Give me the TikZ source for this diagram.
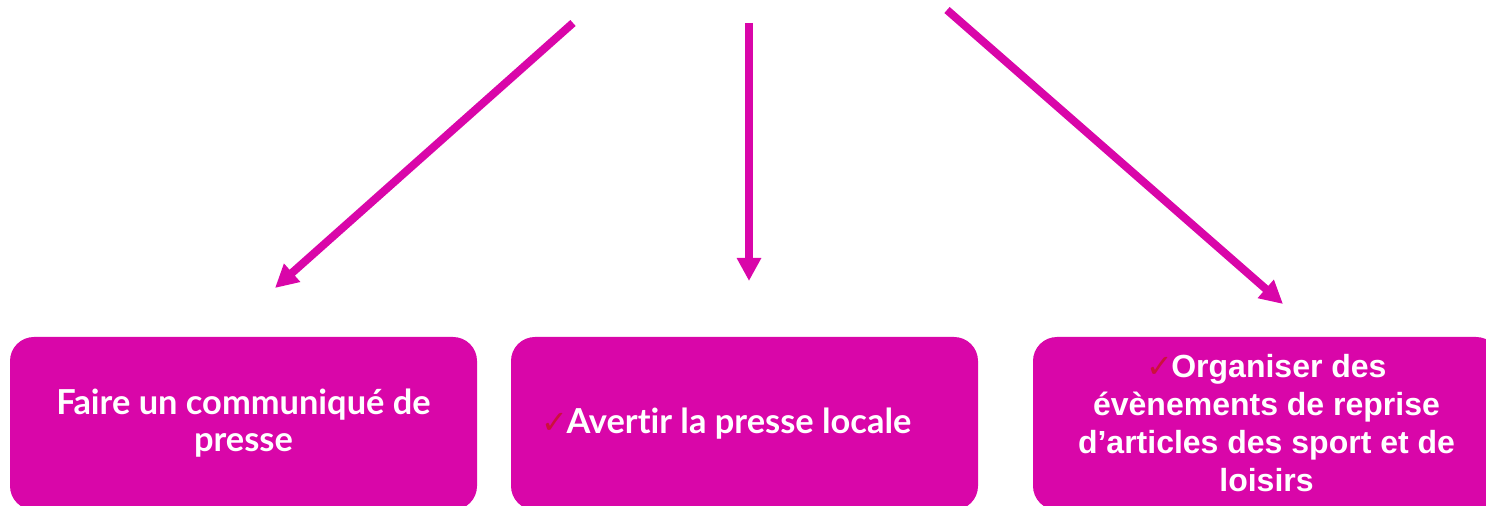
\documentclass[tikz,border=0pt]{standalone}
\usepackage{fontspec}
\setmainfont{Lato}[Ligatures=NoCommon]
\newfontfamily\arialfont{Liberation Sans}
\newfontfamily\symbfont{DejaVu Sans}
\usetikzlibrary{arrows.meta}
\definecolor{rose}{RGB}{217,6,169}
\definecolor{coche}{RGB}{204,16,60}
\newcommand{\coche}{{\symbfont\color{coche}\fontsize{16}{16}\selectfont ✓}}
\tikzset{
  boite/.style={fill=rose, rounded corners=12pt, inner sep=0pt,
    minimum width=233.5pt, minimum height=86.5pt, text=white, align=center,
    font=\fontsize{17.2}{18.5}\selectfont\bfseries},
  fleche/.style={draw=rose, line width=4pt,
    -{Triangle[length=11.5pt,width=11.5pt]}}
}
\begin{document}
\begin{tikzpicture}[x=0.5pt,y=-0.5pt]
      \useasboundingbox (0,0) rectangle (1486,506);
      \clip (0,0) rectangle (1486,506);
      \draw
        (243.5,423.5) node[boite] (communique){Faire un communiqué de\\presse}
        (744.5,423.5) node[boite] (avertir){\coche\kern-1pt Avertir la presse locale\kern18pt}
        (1266.5,423.5) node[boite, font=\arialfont\fontsize{16}{19}\selectfont\bfseries]
          (organiser){\coche\kern-1pt Organiser des\\évènements de reprise\\d’articles des sport et de\\loisirs};
      \draw
        (573,23) coordinate (depart1)
        (749,23) coordinate (depart2)
        (947,10) coordinate (depart3)
        (275,288) coordinate (fin1)
        (749,281) coordinate (fin2)
        (1283,304) coordinate (fin3);
      \begin{scope}[fleche]
        \draw (depart1) to (fin1);
        \draw (depart2) to (fin2);
        \draw (depart3) to (fin3);
      \end{scope}
    \end{tikzpicture}
\end{document}
